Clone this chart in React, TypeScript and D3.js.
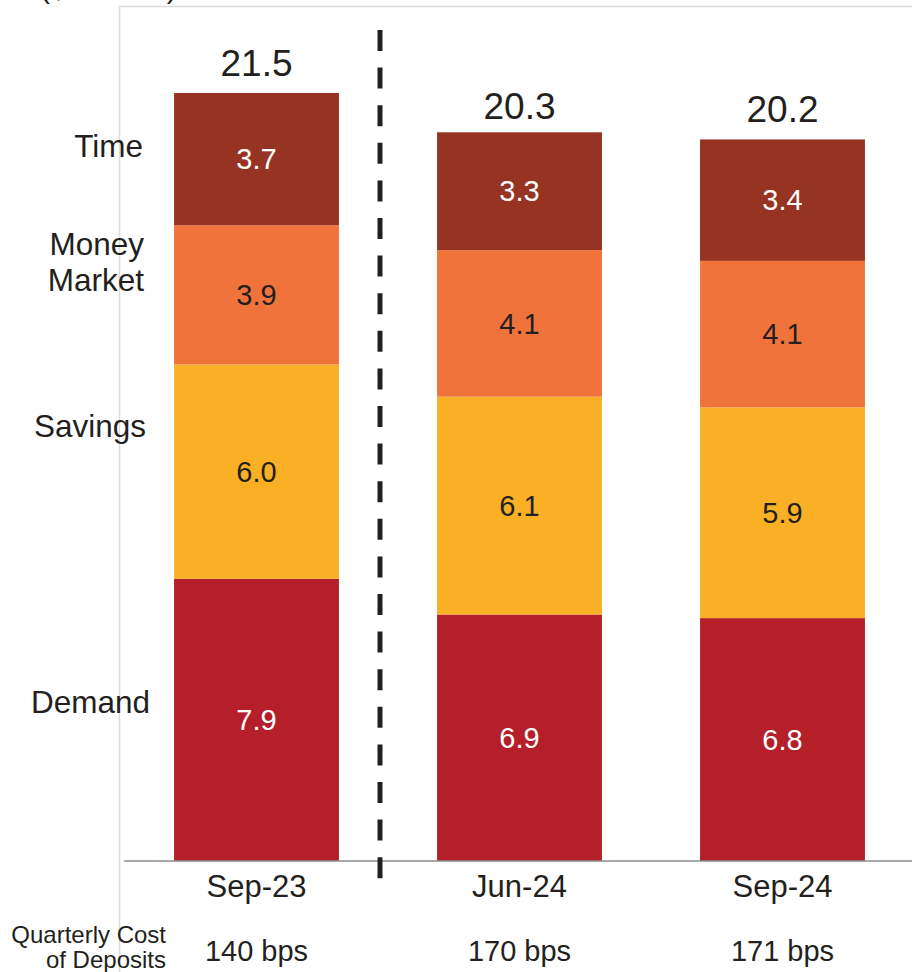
import React from "react";
import * as d3 from "d3";

const categories = ["Sep-23", "Jun-24", "Sep-24"];
const seriesNames = ["Demand", "Savings", "Money Market", "Time"];
const demand = [7.9, 6.9, 6.8];
const savings = [6.0, 6.1, 5.9];
const moneyMarket = [3.9, 4.1, 4.1];
const time = [3.7, 3.3, 3.4];
const totals = [21.5, 20.3, 20.2];
const costLabels = ["140 bps", "170 bps", "171 bps"];
const seriesColors = ["#B41F29", "#F9B024", "#F0733C", "#963323"];
const labelColors = ["#FFFFFF", "#231F20", "#231F20", "#FFFFFF"];

const W = 912;
const H = 972;
const FONT = "Liberation Sans, Arial, sans-serif";

export default function App() {
  const x = d3
    .scaleBand<string>()
    .domain(categories)
    .range([125, 914])
    .paddingInner(0.373)
    .paddingOuter(0.1865);
  const y = d3.scaleLinear().domain([0, 21.5]).range([861, 93]);

  const rows = categories.map((c, i) => ({
    cat: c,
    Demand: demand[i],
    Savings: savings[i],
    "Money Market": moneyMarket[i],
    Time: time[i],
  }));
  const stacked = d3.stack<any>().keys(seriesNames)(rows);

  const sideLabels = [
    { lines: ["Time"], y: 157, x: 143 },
    { lines: ["Money", "Market"], y: 255, x: 144 },
    { lines: ["Savings"], y: 437, x: 146 },
    { lines: ["Demand"], y: 713, x: 150 },
  ];

  const bw = x.bandwidth();

  return (
    <svg
      width={W}
      height={H}
      style={{ position: "absolute", left: 0, top: 0, background: "#fff" }}
      fontFamily={FONT}
    >
      {/* frame */}
      <line x1={119.5} x2={119.5} y1={6} y2={H} stroke="#dcdcdc" strokeWidth={1.5} />
      <line x1={119.5} x2={W} y1={6.5} y2={6.5} stroke="#dcdcdc" strokeWidth={1.5} />

      {/* cut-off unit title */}
      <text x={40} y={-2} fontSize={30} fill="#231F20">($ billions)</text>

      {/* bars */}
      {stacked.map((s, si) => (
        <g key={s.key}>
          {s.map((d, i) => (
            <rect
              key={i}
              x={x(categories[i])}
              y={y(d[1])}
              width={bw}
              height={y(d[0]) - y(d[1])}
              fill={seriesColors[si]}
            />
          ))}
          {s.map((d, i) => (
            <text
              key={"t" + i}
              x={(x(categories[i]) as number) + bw / 2}
              y={(y(d[0]) + y(d[1])) / 2}
              dy="0.35em"
              textAnchor="middle"
              fontSize={29}
              fill={labelColors[si]}
            >
              {(d[1] - d[0]).toFixed(1)}
            </text>
          ))}
        </g>
      ))}

      {/* totals */}
      {totals.map((t, i) => (
        <text
          key={i}
          x={(x(categories[i]) as number) + bw / 2}
          y={y(t) - 17}
          textAnchor="middle"
          fontSize={37}
          fill="#231F20"
        >
          {t.toFixed(1)}
        </text>
      ))}

      {/* axis baseline */}
      <line x1={124} x2={W} y1={y(0)} y2={y(0)} stroke="#8c8c8c" strokeWidth={1.5} />

      {/* dashed separator */}
      <line
        x1={380}
        x2={380}
        y1={30}
        y2={879}
        stroke="#231F20"
        strokeWidth={5}
        strokeDasharray="21 16.6"
      />

      {/* category labels */}
      {categories.map((c) => (
        <text
          key={c}
          x={(x(c) as number) + bw / 2}
          y={897}
          textAnchor="middle"
          fontSize={31}
          fill="#231F20"
        >
          {c}
        </text>
      ))}

      {/* cost row */}
      <text x={166} y={943} textAnchor="end" fontSize={24} fill="#231F20">Quarterly Cost</text>
      <text x={166} y={968} textAnchor="end" fontSize={24} fill="#231F20">of Deposits</text>
      {costLabels.map((c, i) => (
        <text
          key={c}
          x={(x(categories[i]) as number) + bw / 2}
          y={961}
          textAnchor="middle"
          fontSize={29}
          fill="#231F20"
        >
          {c}
        </text>
      ))}

      {/* side series labels */}
      {sideLabels.map((l) =>
        l.lines.map((ln, k) => (
          <text
            key={ln}
            x={l.x}
            y={l.y + k * 36}
            textAnchor="end"
            fontSize={31.5}
            fill="#231F20"
          >
            {ln}
          </text>
        ))
      )}
    </svg>
  );
}
